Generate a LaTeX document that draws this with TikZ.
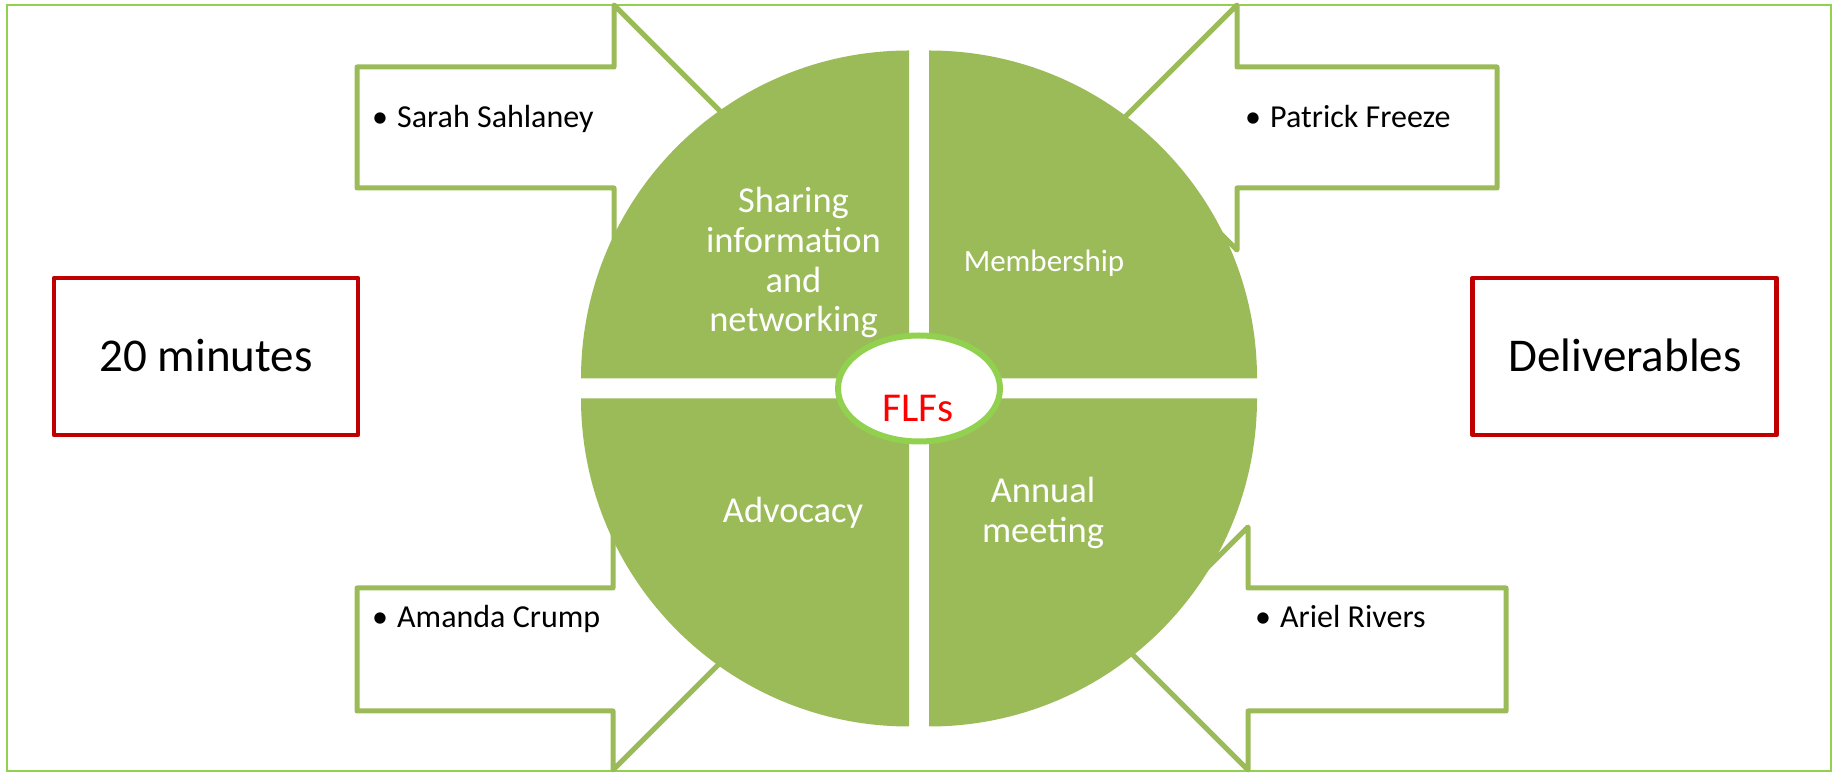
\documentclass[tikz,border=0pt]{standalone}
\usepackage{fontspec}
\setmainfont{Carlito}
\definecolor{frameg}{HTML}{92D050}
\definecolor{olive}{HTML}{9BBB59}
\definecolor{dred}{HTML}{C00000}
\begin{document}
\begin{tikzpicture}[x=1pt,y=1pt,
  arrowshape/.style={draw=olive, line width=5pt, fill=white, line join=round},
  quad/.style={fill=olive},
  redbox/.style={draw=dred, line width=4.5pt, fill=white, line join=round, minimum width=304pt, minimum height=157pt, inner sep=0},
  qtext/.style={text=white, font=\fontsize{36.5}{40}\selectfont, anchor=base, inner sep=0},
  mtext/.style={text=white, font=\fontsize{31}{37}\selectfont, anchor=base, inner sep=0},
  person/.style={font=\fontsize{32}{38}\selectfont, anchor=base west, inner sep=0},
  big/.style={font=\fontsize{47}{56}\selectfont, anchor=base, inner sep=0}]
\useasboundingbox (0,0) rectangle (1835,773);
% frame
\draw[frameg, line width=2.5pt] (7,2) rectangle (1831,768);
% arrows
\draw[arrowshape] (357,706) -- (614,706) -- (614,768) -- (736.5,645.5) -- (614,523) -- (614,585) -- (357,585) -- cycle;
\draw[arrowshape] (1497,706) -- (1237,706) -- (1237,768) -- (1114.5,645.5) -- (1237,523) -- (1237,585) -- (1497,585) -- cycle;
\draw[arrowshape] (357,185) -- (613,185) -- (613,244) -- (733.5,123.5) -- (613,3) -- (613,62) -- (357,62) -- cycle;
\draw[arrowshape] (1506,185) -- (1248,185) -- (1248,246) -- (1126.5,124.5) -- (1248,3) -- (1248,62) -- (1506,62) -- cycle;
% quadrants
\fill[quad] (909,394.5) -- (581,394.5) arc[start angle=180, end angle=90, radius=328] -- cycle;
\fill[quad] (929,394.5) -- (929,722.5) arc[start angle=90, end angle=0, radius=328] -- cycle;
\fill[quad] (909,374.5) -- (909,46.5) arc[start angle=270, end angle=180, radius=328] -- cycle;
\fill[quad] (929,374.5) -- (1257,374.5) arc[start angle=0, end angle=-90, radius=328] -- cycle;
% centre
\coordinate (flf) at (919,384.5);
\draw[frameg, line width=6pt, fill=white] (flf) ellipse [x radius=81, y radius=53];
\node[anchor=base, text=red, font=\fontsize{41}{48}\selectfont, inner sep=0] (flft) at (918,351) {FLFs};
% quadrant texts
\node[qtext] (s1) at (793.5,560) {Sharing};
\node[qtext] (s2) at (793.5,520) {information};
\node[qtext] (s3) at (793.5,480) {and};
\node[qtext] (s4) at (793.5,441) {networking};
\node[mtext] (mem) at (1044,501) {Membership};
\node[qtext] (adv) at (793,250) {Advocacy};
\node[qtext] (an1) at (1043,270) {Annual};
\node[qtext] (an2) at (1043,230) {meeting};
% people
\node[person] (p1) at (372,645) {\makebox[25pt][l]{•}Sarah Sahlaney};
\node[person] (p2) at (1245,645) {\makebox[25pt][l]{•}Patrick Freeze};
\node[person] (p3) at (372,145) {\makebox[25pt][l]{•}Amanda Crump};
\node[person] (p4) at (1255,145) {\makebox[25pt][l]{•}Ariel Rivers};
% red boxes
\node[redbox] (dur) at (206,416.5) {};
\node[big] (durt) at (206,401) {20 minutes};
\node[redbox] (del) at (1624.5,416.5) {};
\node[big] (delt) at (1625,401) {Deliverables};
\end{tikzpicture}
\end{document}
